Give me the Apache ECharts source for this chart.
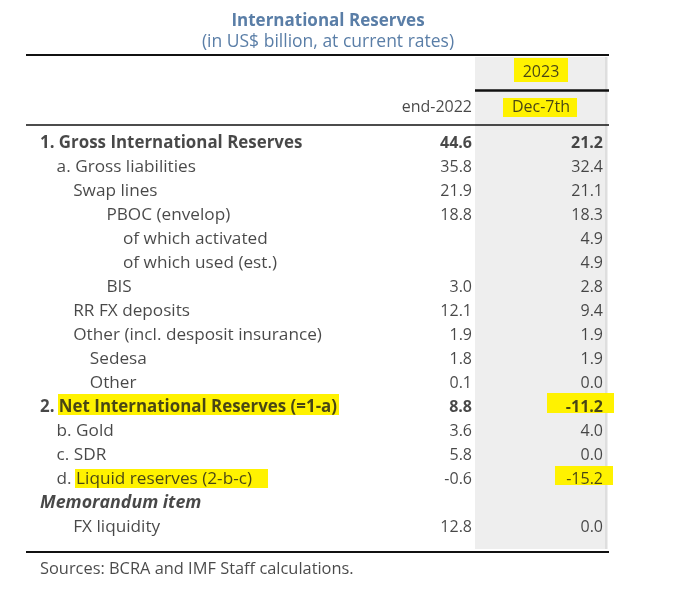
<!DOCTYPE html>
<html>
<head>
<meta charset="utf-8">
<script src="https://cdn.jsdelivr.net/npm/echarts@6/dist/echarts.min.js"></script>
<style>
html,body{margin:0;padding:0;background:#fff;}
#c{width:680px;height:589px;}
</style>
</head>
<body>
<div id="c"></div>
<script>
// ---- data ----
const rowLabels = [
  '1. Gross International Reserves',
  'a. Gross liabilities',
  'Swap lines',
  'PBOC (envelop)',
  'of which activated',
  'of which used (est.)',
  'BIS',
  'RR FX deposits',
  'Other (incl. desposit insurance)',
  'Sedesa',
  'Other',
  '2. Net International Reserves (=1-a)',
  'b. Gold',
  'c. SDR',
  'd. Liquid reserves (2-b-c)',
  'Memorandum item',
  'FX liquidity'
];
const rowLevels = [0,1,2,4,5,5,4,2,2,3,3,0,1,1,1,0,2];
const boldRows = [0, 11];
const italicRows = [15];
const colEnd2022 = [44.6,35.8,21.9,18.8,null,null,3.0,12.1,1.9,1.8,0.1,8.8,3.6,5.8,-0.6,null,12.8];
const colDec2023 = [21.2,32.4,21.1,18.3,4.9,4.9,2.8,9.4,1.9,1.9,0.0,-11.2,4.0,0.0,-15.2,null,0.0];
const headerYear = '2023';
const headerCols = ['end-2022', 'Dec-7th'];
const titleText = 'International Reserves';
const subtitleText = '(in US$ billion, at current rates)';
const sourceText = 'Sources: BCRA and IMF Staff calculations.';

// ---- layout ----
const FONT = '"Open Sans"';
const FS = 16;       // numbers / headers
const FS_LAB = 17.2; // row labels
const ROW0 = 143, ROWH = 24;
const rowY = i => ROW0 + ROWH * i;
const X_LABEL = 40, INDENT = 16.6;
const X_C1 = 472, X_C2 = 603;
const TEXT = '#1a1a1a';

const labelData = rowLabels.map((t, i) => ({
  value: [X_LABEL + INDENT * rowLevels[i], rowY(i)],
  t: t,
  label: {
    fontWeight: (boldRows.includes(i) || italicRows.includes(i)) ? 'bold' : 'normal',
    fontStyle: italicRows.includes(i) ? 'italic' : 'normal',
    fontSize: boldRows.includes(i) ? 16.9 : (italicRows.includes(i) ? 17.8 : FS_LAB)
  }
}));
const mkCol = (arr, x) => arr.map((v, i) => v === null ? null : ({
  value: [x, rowY(i)],
  t: v.toFixed(1),
  label: { fontWeight: boldRows.includes(i) ? 'bold' : 'normal' }
})).filter(d => d);

const baseLabel = {
  show: true, formatter: p => p.data.t, color: TEXT,
  fontFamily: FONT, fontSize: FS, distance: 0
};

const yellow = '#fff200';

const option = {
  animation: false,
  title: {
    text: titleText, subtext: subtitleText,
    left: 323, top: 8, textAlign: 'center', itemGap: 3,
    textStyle: { color: '#5a7ea7', fontFamily: FONT, fontSize: 17, fontWeight: 'bold' },
    subtextStyle: { color: '#5a7ea7', fontFamily: FONT, fontSize: 17.5 }
  },
  grid: { left: 0, right: 0, top: 0, bottom: 0 },
  xAxis: { type: 'value', min: 0, max: 680, show: false },
  yAxis: { type: 'value', min: 0, max: 589, inverse: true, show: false },
  series: [
    {
      type: 'scatter', symbolSize: 0, silent: true, z: 1,
      data: [],
      markArea: {
        silent: true,
        data: [
          [{coord:[475, 57], itemStyle:{color:'#eeeeee'}}, {coord:[607, 549]}],
          [{coord:[605, 57], itemStyle:{color:'#dedede'}}, {coord:[607.5, 549]}],
          [{coord:[514, 58], itemStyle:{color:yellow}}, {coord:[568, 82]}],
          [{coord:[503, 98], itemStyle:{color:yellow}}, {coord:[577, 117]}],
          [{coord:[58, rowY(11)-13], itemStyle:{color:yellow}}, {coord:[339, rowY(11)+8]}],
          [{coord:[547, rowY(11)-14], itemStyle:{color:yellow}}, {coord:[614, rowY(11)+6]}],
          [{coord:[75, rowY(14)-10], itemStyle:{color:yellow}}, {coord:[268, rowY(14)+9]}],
          [{coord:[555, rowY(14)-13], itemStyle:{color:yellow}}, {coord:[613, rowY(14)+6]}]
        ]
      },
      markLine: {
        silent: true, symbol: 'none', label: { show: false },
        data: [
          [{coord:[26, 55], lineStyle:{color:'#111', width:2, type:'solid'}}, {coord:[609, 55]}],
          [{coord:[475, 90], lineStyle:{color:'#111', width:2.5, type:'solid'}}, {coord:[609, 90]}],
          [{coord:[26, 125], lineStyle:{color:'#111', width:1.6, type:'solid'}}, {coord:[609, 125]}],
          [{coord:[26, 552], lineStyle:{color:'#111', width:2, type:'solid'}}, {coord:[609, 552]}]
        ]
      }
    },
    {
      type: 'scatter', symbolSize: 0, silent: true, z: 5,
      label: Object.assign({}, baseLabel, { position: 'right', align: 'left' }),
      data: labelData
    },
    {
      type: 'scatter', symbolSize: 0, silent: true, z: 5,
      label: Object.assign({}, baseLabel, { position: 'left', align: 'right' }),
      data: mkCol(colEnd2022, X_C1)
    },
    {
      type: 'scatter', symbolSize: 0, silent: true, z: 5,
      label: Object.assign({}, baseLabel, { position: 'left', align: 'right' }),
      data: mkCol(colDec2023, X_C2)
    },
    {
      type: 'scatter', symbolSize: 0, silent: true, z: 5,
      label: Object.assign({}, baseLabel),
      data: [
        { value: [541, 72], t: headerYear, label: { position: 'inside', align: 'center' } },
        { value: [X_C1, 107], t: headerCols[0], label: { position: 'left', align: 'right' } },
        { value: [541, 107], t: headerCols[1], label: { position: 'inside', align: 'center' } },
        { value: [X_LABEL, 569], t: sourceText, label: { position: 'right', align: 'left', fontSize: 16.4 } }
      ]
    }
  ]
};

const chart = echarts.init(document.getElementById('c'), null, { renderer: 'canvas' });
chart.setOption(option);
</script>
</body>
</html>
